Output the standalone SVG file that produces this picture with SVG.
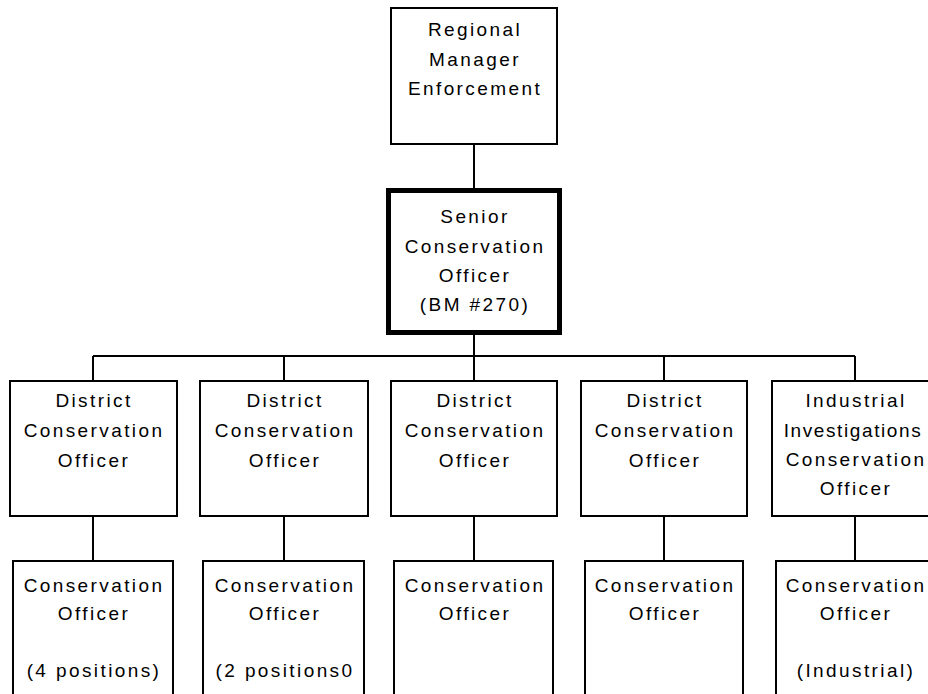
<svg xmlns="http://www.w3.org/2000/svg" width="928" height="694" viewBox="0 0 928 694">
<style>
.box{fill:#fff;stroke:#000;stroke-width:2}
.thick{fill:#fff;stroke:#000;stroke-width:5}
.c{stroke:#000;stroke-width:2;fill:none}
text{font-family:"Liberation Sans",Arial,sans-serif;font-size:19px;letter-spacing:2.4px;text-anchor:middle;fill:#000}
.tight{letter-spacing:1.6px}
</style>
<rect width="928" height="694" fill="#fff"/>
<g id="connectors">
<line class="c" x1="474" y1="144" x2="474" y2="188"/>
<line class="c" x1="474" y1="335" x2="474" y2="356"/>
<line class="c" x1="93" y1="356" x2="855" y2="356"/>
<line class="c" x1="93" y1="356" x2="93" y2="381"/>
<line class="c" x1="284" y1="356" x2="284" y2="381"/>
<line class="c" x1="474" y1="356" x2="474" y2="381"/>
<line class="c" x1="664" y1="356" x2="664" y2="381"/>
<line class="c" x1="855" y1="356" x2="855" y2="381"/>
<line class="c" x1="93" y1="516" x2="93" y2="561"/>
<line class="c" x1="284" y1="516" x2="284" y2="561"/>
<line class="c" x1="474" y1="516" x2="474" y2="561"/>
<line class="c" x1="664" y1="516" x2="664" y2="561"/>
<line class="c" x1="855" y1="516" x2="855" y2="561"/>
</g>
<g id="regional">
<rect class="box" x="391" y="8" width="166" height="136"/>
<text x="475" y="36">Regional</text>
<text x="475" y="65.5">Manager</text>
<text x="475" y="95">Enforcement</text>
</g>
<g id="senior">
<rect class="thick" x="388.5" y="190.5" width="171" height="142"/>
<text x="475" y="223">Senior</text>
<text x="475" y="252.5">Conservation</text>
<text x="475" y="282">Officer</text>
<text x="475" y="311">(BM #270)</text>
</g>
<g id="district1">
<rect class="box" x="10" y="381" width="167" height="135"/>
<text x="94" y="407">District</text>
<text x="94" y="437">Conservation</text>
<text x="94" y="467">Officer</text>
</g>
<g id="district2">
<rect class="box" x="200" y="381" width="168" height="135"/>
<text x="285" y="407">District</text>
<text x="285" y="437">Conservation</text>
<text x="285" y="467">Officer</text>
</g>
<g id="district3">
<rect class="box" x="391" y="381" width="166" height="135"/>
<text x="475" y="407">District</text>
<text x="475" y="437">Conservation</text>
<text x="475" y="467">Officer</text>
</g>
<g id="district4">
<rect class="box" x="581" y="381" width="166" height="135"/>
<text x="665" y="407">District</text>
<text x="665" y="437">Conservation</text>
<text x="665" y="467">Officer</text>
</g>
<g id="industrial">
<rect class="box" x="772" y="381" width="166" height="135"/>
<text x="856" y="407">Industrial</text>
<text class="tight" x="853" y="437">Investigations</text>
<text x="856" y="466">Conservation</text>
<text x="856" y="495">Officer</text>
</g>
<g id="co1">
<rect class="box" x="13" y="561" width="160" height="150"/>
<text x="94" y="592">Conservation</text>
<text x="94" y="620">Officer</text>
<text x="94" y="677">(4 positions)</text>
</g>
<g id="co2">
<rect class="box" x="203" y="561" width="161" height="150"/>
<text x="285" y="592">Conservation</text>
<text x="285" y="620">Officer</text>
<text x="285" y="677">(2 positions0</text>
</g>
<g id="co3">
<rect class="box" x="394" y="561" width="159" height="150"/>
<text x="475" y="592">Conservation</text>
<text x="475" y="620">Officer</text>
</g>
<g id="co4">
<rect class="box" x="585" y="561" width="158" height="150"/>
<text x="665" y="592">Conservation</text>
<text x="665" y="620">Officer</text>
</g>
<g id="co5">
<rect class="box" x="776" y="561" width="158" height="150"/>
<text x="856" y="592">Conservation</text>
<text x="856" y="620">Officer</text>
<text x="856" y="677">(Industrial)</text>
</g>
</svg>
